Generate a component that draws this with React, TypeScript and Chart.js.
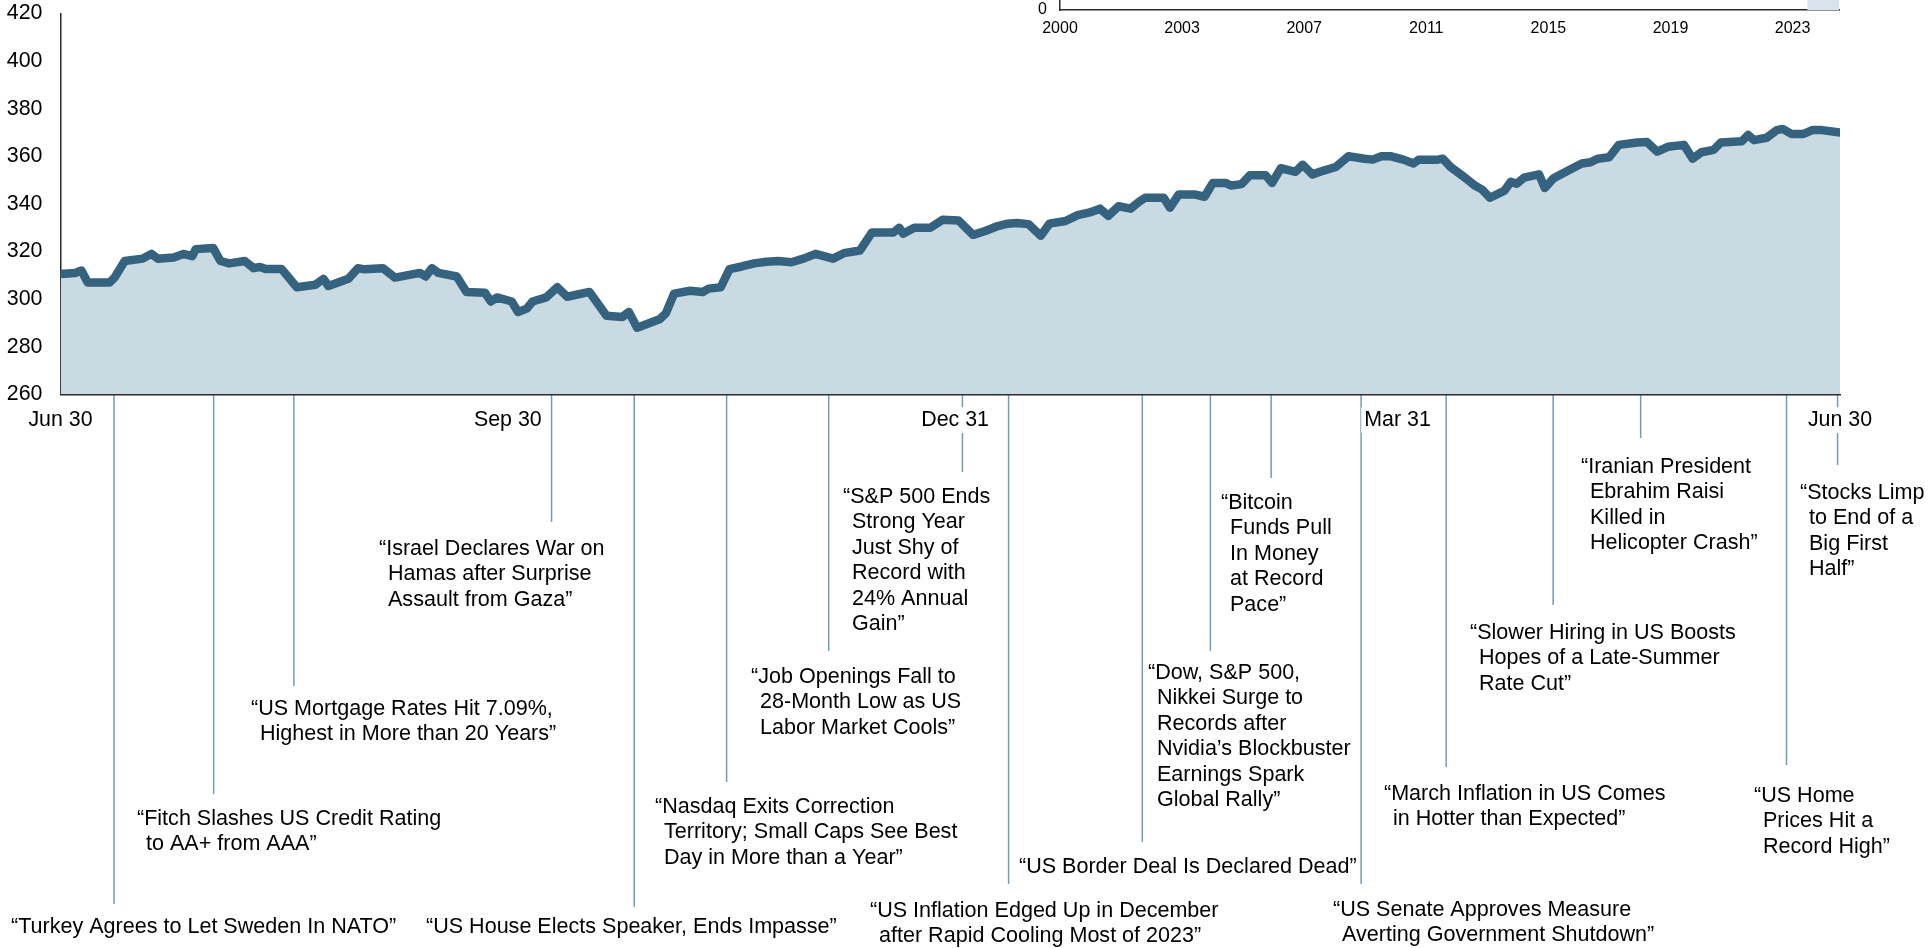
import React, { useEffect, useRef } from 'react';
import { Chart, registerables } from 'chart.js';

Chart.register(...registerables);

const FONT = "'Liberation Sans', Arial, Helvetica, sans-serif";

// ---- Main series: days since Jun 30, 2023 and index level ----
const dayOffsets = [
  0, 3, 4.3, 5.6, 10.1, 11.1, 13.2, 16.9, 18.7, 20, 23.3, 25.3, 27.1, 27.8, 31.4, 32.9, 34.7, 37.9, 39.7, 41,
  42.2, 45.5, 48.6, 52.4, 54.1, 55.1, 59.2, 61.2, 62.5, 66.3, 68.8, 73.9, 75.1, 76.4, 77.7, 81.5, 83.5, 87.3,
  88.5, 89.8, 92.8, 94.1, 95.9, 97.1, 99.9, 102.2, 104.2, 108.8, 112.3, 115.6, 116.9, 118.6, 123.2, 124.5,
  126.2, 129.5, 132.1, 133.3, 135.8, 137.6, 140.1, 142.7, 145.2, 147.7, 150.3, 152.8, 155.3, 158.9, 161.1,
  164.4, 166.9, 171.3, 172.5, 173.3, 175.6, 178.9, 181.4, 184.7, 187.7, 190.2, 192.8, 194.8, 196.6, 199.1,
  201.6, 203.4, 206.7, 209.2, 211.7, 213.8, 215.5, 217.6, 220.1, 221.9, 223.1, 226.9, 228.2, 230, 233.2,
  235.3, 237, 239.6, 240.8, 242.9, 244.6, 247.9, 249.2, 251, 254, 255.5, 257.5, 259.8, 262.3, 264.9, 268.2,
  269.9, 271.7, 273.7, 276.2, 278.3, 279.3, 283.3, 284.3, 285.9, 288.9, 290.9, 292.4, 294, 297, 298.3, 299.5,
  301, 304.1, 305.3, 307.1, 310.4, 312.9, 314.7, 316.2, 318.5, 320.5, 324.3, 326.3, 328.4, 330.6, 333.9,
  335.7, 337.5, 340, 341.5, 345.8, 347.1, 348.3, 350.9, 353, 354.2, 356, 358.5, 360.3, 362.3, 366,
];
const indexValues = [
  310.5, 311, 312, 307, 307, 309, 316, 317, 319, 317, 317.5, 319, 318, 321, 321.5, 316, 315, 316, 313, 313.5,
  312.6, 312.6, 305, 306, 308.5, 305.5, 308.5, 313, 312.5, 313, 309, 311, 309.5, 313, 311, 309.5, 303, 302.7,
  299, 300.7, 299, 294.6, 296, 299, 300.7, 305, 301, 303, 293, 292.5, 294.6, 288, 291.5, 294,
  302.3, 303.5, 303, 304.4, 305, 312.6, 313.7, 315, 315.7, 316, 315.5, 317, 319, 317, 319.3,
  320.4, 328, 328, 330, 327.5, 330, 330, 333.3, 333, 327, 328.6, 330.7, 331.7, 332, 331.5,
  326.6, 331.7, 332.8, 335.3, 336.4, 338, 335, 339, 338, 341, 342.6, 342.6, 338.4, 344, 344,
  343, 348.8, 348.8, 347.7, 348.3, 352, 352, 348.8, 355, 353.5, 356.5, 352.4, 354, 355.5, 360, 359,
  358.6, 360, 360, 358.6, 357, 358.5, 358.6, 359, 355.5, 351, 347.7, 346, 342.6, 345.6, 349.3, 348.5,
  351, 352.4, 346.7, 350.8, 354.4, 357, 357.5, 359, 359.6, 364.8, 365.8, 366, 362, 364, 364.8,
  359, 361.7, 362.7, 365.8, 366.3, 369, 366.8, 367.8, 371, 371.5, 369.4, 369.4, 371, 371, 370,
];

const yTickValues = [260, 280, 300, 320, 340, 360, 380, 400, 420];
const xTickDays = [0, 92, 184, 275, 366];
const xTickLabels = ['Jun 30', 'Sep 30', 'Dec 31', 'Mar 31', 'Jun 30'];

// ---- Event annotations (day since Jun 30, 2023) ----
const eventDays = [11, 31.5, 48, 101, 118, 137, 158, 185.5, 195, 222.5, 236.5, 249, 267.5, 285, 307, 325, 355, 365.5];
const eventTexts = [
  ['“Turkey Agrees to Let Sweden In NATO”'],
  ['“Fitch Slashes US Credit Rating', 'to AA+ from AAA”'],
  ['“US Mortgage Rates Hit 7.09%,', 'Highest in More than 20 Years”'],
  ['“Israel Declares War on', 'Hamas after Surprise', 'Assault from Gaza”'],
  ['“US House Elects Speaker, Ends Impasse”'],
  ['“Nasdaq Exits Correction', 'Territory; Small Caps See Best', 'Day in More than a Year”'],
  ['“Job Openings Fall to', '28-Month Low as US', 'Labor Market Cools”'],
  ['“S&P 500 Ends', 'Strong Year', 'Just Shy of', 'Record with', '24% Annual', 'Gain”'],
  ['“US Inflation Edged Up in December', 'after Rapid Cooling Most of 2023”'],
  ['“US Border Deal Is Declared Dead”'],
  ['“Dow, S&P 500,', 'Nikkei Surge to', 'Records after', 'Nvidia’s Blockbuster', 'Earnings Spark', 'Global Rally”'],
  ['“Bitcoin', 'Funds Pull', 'In Money', 'at Record', 'Pace”'],
  ['“US Senate Approves Measure', 'Averting Government Shutdown”'],
  ['“March Inflation in US Comes', 'in Hotter than Expected”'],
  ['“Slower Hiring in US Boosts', 'Hopes of a Late-Summer', 'Rate Cut”'],
  ['“Iranian President', 'Ebrahim Raisi', 'Killed in', 'Helicopter Crash”'],
  ['“US Home', 'Prices Hit a', 'Record High”'],
  ['“Stocks Limp', 'to End of a', 'Big First', 'Half”'],
];
// layout of the annotations (pixels)
const eventLineEnd = [904, 794, 686, 522, 907, 782, 651, 472, 884, 842, 651, 478, 884, 767, 605, 438, 765, 465];
const eventTextX = [11, 137, 251, 379, 426, 655, 751, 843, 870, 1019, 1148, 1221, 1333, 1384, 1470, 1581, 1754, 1800];
const eventTextY = [927, 819, 709, 549, 927, 807, 677, 497, 911, 867, 673, 503, 910, 794, 633, 467, 796, 493];

// ---- Inset (long-term history axis) ----
const insetTickYears = [2000, 2003.84, 2007.68, 2011.52, 2015.36, 2019.2, 2023.04];
const insetTickLabels = ['2000', '2003', '2007', '2011', '2015', '2019', '2023'];
const insetHighlightYears = [2023.5, 2024.5];

const LINE_COLOR = '#35627f';
const FILL_COLOR = '#c9dae3';
const EVENT_LINE_COLOR = '#739cb8';
const TEXT_COLOR = '#000000';
const LINE_H = 25.5;
const INDENT = 9;
const INSET_TOP = -150;
const INSET_H = 200;

const eventsPlugin = {
  id: 'events',
  beforeDraw(chart: any) {
    const { ctx, chartArea } = chart;
    const x = chart.scales.x;
    ctx.save();
    ctx.strokeStyle = EVENT_LINE_COLOR;
    ctx.lineWidth = 1.5;
    eventDays.forEach((d, i) => {
      const px = x.getPixelForValue(d);
      ctx.beginPath();
      ctx.moveTo(px, chartArea.bottom);
      ctx.lineTo(px, eventLineEnd[i]);
      ctx.stroke();
    });
    ctx.restore();
  },
  afterDraw(chart: any) {
    const { ctx } = chart;
    ctx.save();
    ctx.font = `21.55px ${FONT}`;
    ctx.fillStyle = TEXT_COLOR;
    ctx.textBaseline = 'middle';
    ctx.textAlign = 'left';
    eventTexts.forEach((lines, i) => {
      lines.forEach((t, j) => {
        ctx.fillText(t, eventTextX[i] + (j ? INDENT : 0), eventTextY[i] + j * LINE_H);
      });
    });
    ctx.restore();
  },
};

export default function App() {
  const mainRef = useRef<HTMLCanvasElement>(null);
  const insetRef = useRef<HTMLCanvasElement>(null);

  useEffect(() => {
    const main = new Chart(mainRef.current as HTMLCanvasElement, {
      type: 'line',
      data: {
        datasets: [
          {
            data: dayOffsets.map((d, i) => ({ x: d, y: indexValues[i] })),
            borderColor: LINE_COLOR,
            backgroundColor: FILL_COLOR,
            borderWidth: 8.5,
            borderJoinStyle: 'round',
            borderCapStyle: 'round',
            fill: 'start',
            pointRadius: 0,
            tension: 0,
          },
        ],
      },
      options: {
        responsive: false,
        animation: false,
        devicePixelRatio: 1,
        layout: { padding: { left: 0, right: 91, top: 13.5, bottom: 0 } },
        plugins: { legend: { display: false }, tooltip: { enabled: false }, title: { display: false } },
        scales: {
          x: {
            type: 'linear',
            min: 0,
            max: 366,
            grid: { display: false, drawTicks: false },
            border: { display: true, color: '#2a2a2a', width: 1.5 },
            afterBuildTicks: (s: any) => {
              s.ticks = xTickDays.map((v) => ({ value: v }));
            },
            afterFit: (s: any) => {
              s.height = 948 - 394.3;
              s.paddingLeft = 0;
              s.paddingRight = 0;
            },
            ticks: {
              autoSkip: false,
              maxRotation: 0,
              padding: 13,
              color: TEXT_COLOR,
              font: { family: FONT, size: 21.4 },
              callback: (_v: any, i: number) => xTickLabels[i],
              showLabelBackdrop: true,
              backdropColor: '#ffffff',
              backdropPadding: { x: 3, y: 0 },
            },
          },
          y: {
            type: 'linear',
            min: 260,
            max: 420,
            grid: { display: false, drawTicks: false },
            border: { display: true, color: '#2a2a2a', width: 1.5 },
            afterBuildTicks: (s: any) => {
              s.ticks = yTickValues.map((v) => ({ value: v }));
            },
            afterFit: (s: any) => {
              s.width = 60.5;
              s.paddingTop = 0;
              s.paddingBottom = 0;
            },
            ticks: {
              padding: 18,
              color: TEXT_COLOR,
              font: { family: FONT, size: 21.4 },
            },
          },
        },
      },
      plugins: [eventsPlugin],
    } as any);

    const inset = new Chart(insetRef.current as HTMLCanvasElement, {
      type: 'line',
      data: {
        datasets: [
          {
            data: insetHighlightYears.map((yr) => ({ x: yr, y: 1 })),
            borderWidth: 0,
            borderColor: 'rgba(0,0,0,0)',
            backgroundColor: '#d7e4ec',
            fill: 'start',
            pointRadius: 0,
          },
        ],
      },
      options: {
        responsive: false,
        animation: false,
        devicePixelRatio: 1,
        layout: { padding: { left: 0, right: 41, top: 0, bottom: 0 } },
        plugins: { legend: { display: false }, tooltip: { enabled: false } },
        scales: {
          x: {
            type: 'linear',
            min: 2000,
            max: 2024.5,
            grid: { display: false, drawTicks: false },
            border: { display: true, color: '#2a2a2a', width: 1.5 },
            afterBuildTicks: (s: any) => {
              s.ticks = insetTickYears.map((v) => ({ value: v }));
            },
            afterFit: (s: any) => {
              s.height = INSET_H + INSET_TOP - 10;
              s.paddingLeft = 0;
              s.paddingRight = 0;
            },
            ticks: {
              autoSkip: false,
              maxRotation: 0,
              padding: 9,
              color: TEXT_COLOR,
              font: { family: FONT, size: 16 },
              callback: (_v: any, i: number) => insetTickLabels[i],
            },
          },
          y: {
            type: 'linear',
            min: 0,
            max: 1,
            grid: { display: false, drawTicks: false },
            border: { display: true, color: '#2a2a2a', width: 1.5 },
            afterBuildTicks: (s: any) => {
              s.ticks = [{ value: 0 }];
            },
            afterFit: (s: any) => {
              s.width = 60;
              s.paddingTop = 0;
              s.paddingBottom = 0;
            },
            ticks: {
              padding: 13,
              color: TEXT_COLOR,
              font: { family: FONT, size: 16 },
              callback: (v: any) => String(v),
            },
          },
        },
      },
    } as any);

    return () => {
      main.destroy();
      inset.destroy();
    };
  }, []);

  return (
    <div
      style={{
        position: 'fixed',
        left: 0,
        top: 0,
        width: 1931,
        height: 948,
        background: '#ffffff',
        overflow: 'hidden',
      }}
    >
      <canvas ref={mainRef} width={1931} height={948} style={{ position: 'absolute', left: 0, top: 0 }} />
      <canvas
        ref={insetRef}
        width={880}
        height={INSET_H}
        style={{ position: 'absolute', left: 1000, top: INSET_TOP }}
      />
    </div>
  );
}
